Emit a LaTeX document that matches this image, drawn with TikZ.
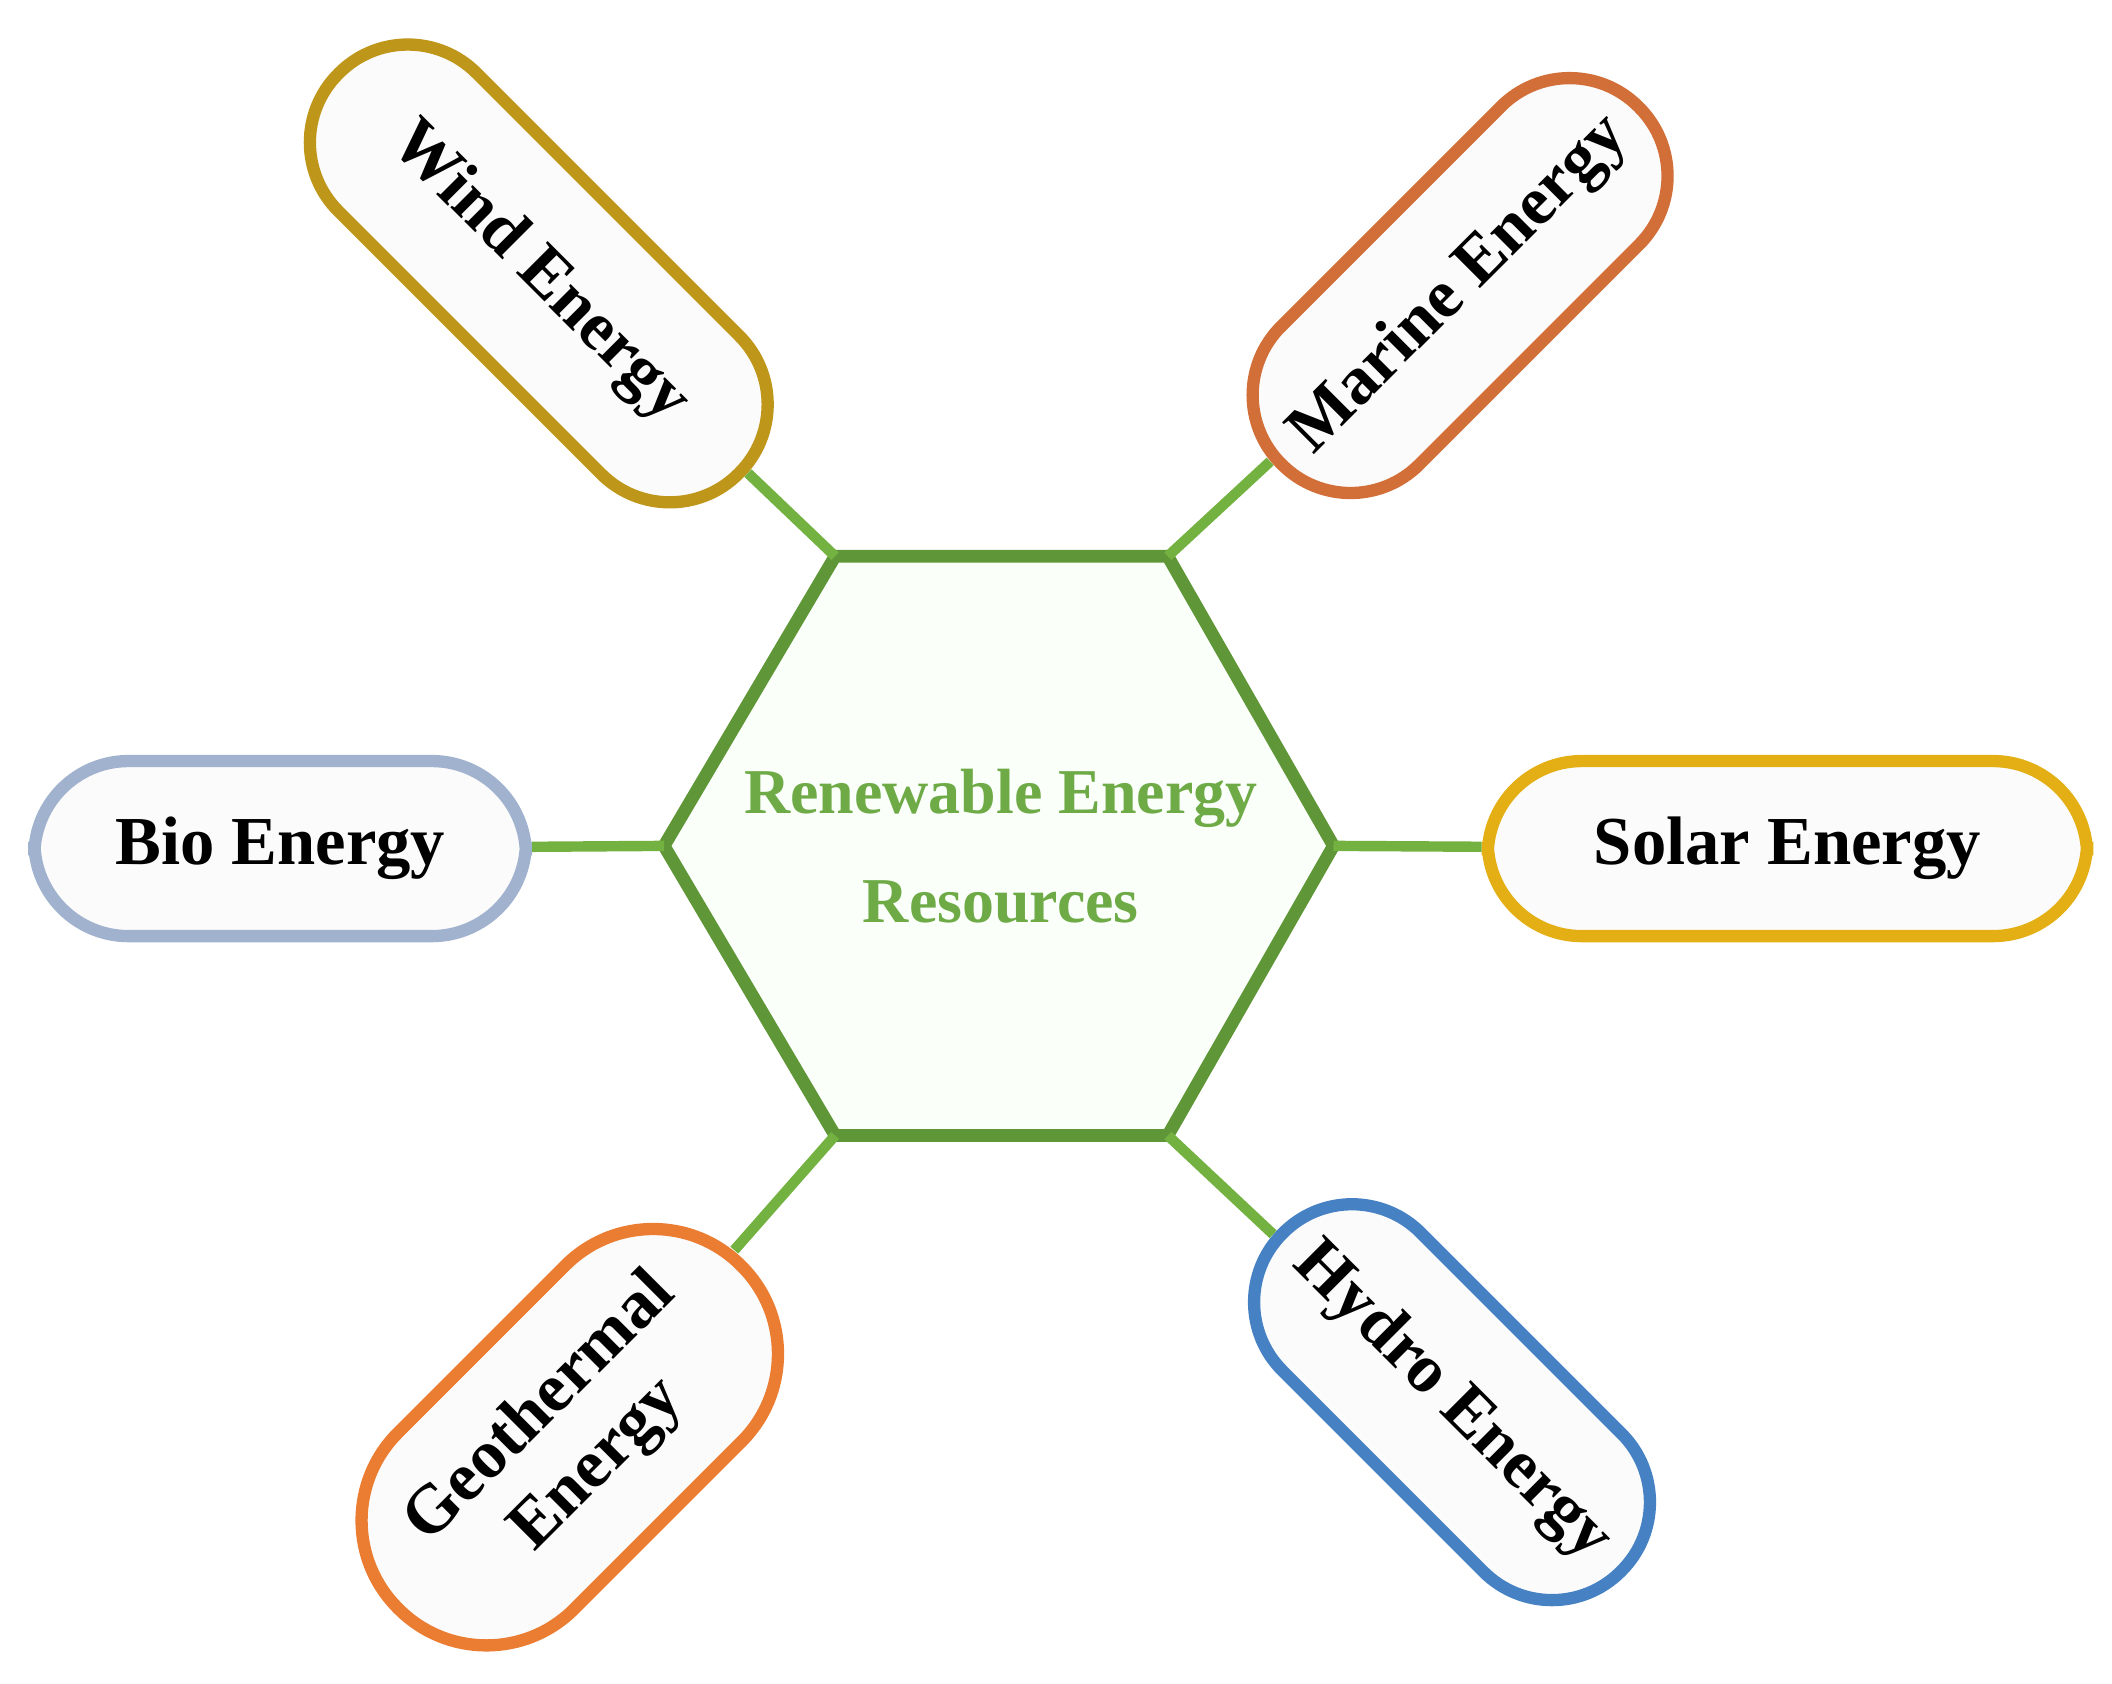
\documentclass[tikz,border=0pt]{standalone}
\usepackage{fontspec}
\setmainfont{Liberation Serif}
\begin{document}
\begin{tikzpicture}
\definecolor{hexg}{RGB}{95,150,55}
\definecolor{cong}{RGB}{115,178,65}
\definecolor{txtg}{RGB}{110,170,70}
\definecolor{cwind}{RGB}{190,150,25}
\definecolor{cmar}{RGB}{210,110,55}
\definecolor{cbio}{RGB}{160,178,205}
\definecolor{csol}{RGB}{228,175,20}
\definecolor{cgeo}{RGB}{235,125,50}
\definecolor{chyd}{RGB}{70,130,195}
\tikzset{
 cap/.style={draw=#1, line width=2.6pt, rectangle, rounded corners=0.7cm,
   minimum height=1.3cm, fill=gray!3, align=center, inner sep=2pt,
   font=\fontsize{14.5}{17}\selectfont\bfseries},
 rcap/.style={cap=#1, minimum height=1.45cm, rounded corners=0.72cm},
 conn/.style={draw=cong, line width=2.2pt},
}
\useasboundingbox (0,0) rectangle (15.68,-12.5);
% hexagon
\coordinate (hTL) at (6.20,-4.13);
\coordinate (hTR) at (8.67,-4.13);
\coordinate (hR) at (9.90,-6.28);
\coordinate (hBR) at (8.67,-8.43);
\coordinate (hBL) at (6.20,-8.43);
\coordinate (hL) at (4.93,-6.28);
\draw[hexg, line width=2.7pt, fill=green!2, line join=round] (hTL)--(hTR)--(hR)--(hBR)--(hBL)--(hL)--cycle;
\node[align=center, text=txtg, font=\fontsize{13.5}{23}\selectfont\bfseries] (center) at (7.43,-6.28) {Renewable Energy\\Resources};
% capsules
\node[rcap=cwind, minimum width=4.2cm, rotate=-45] (wind) at (4.00,-2.03) {Wind Energy};
\node[rcap=cmar, minimum width=3.75cm, rotate=45] (marine) at (10.84,-2.12) {Marine Energy};
\node[cap=cbio, minimum width=3.65cm] (bio) at (2.08,-6.30) {Bio Energy};
\node[cap=csol, minimum width=4.45cm] (solar) at (13.27,-6.30) {Solar Energy};
\node[cap=cgeo, minimum width=3.6cm, minimum height=1.85cm, rounded corners=0.92cm, rotate=45] (geo) at (4.23,-10.67) {Geothermal\\Energy};
\node[rcap=chyd, minimum width=3.55cm, rotate=-45] (hydro) at (10.78,-10.41) {Hydro Energy};
% connectors
\draw[conn] (wind) -- (hTL);
\draw[conn] (marine) -- (hTR);
\draw[conn] (bio) -- (hL);
\draw[conn] (solar) -- (hR);
\draw[conn] (geo) -- (hBL);
\draw[conn] (hydro) -- (hBR);
\end{tikzpicture}
\end{document}
